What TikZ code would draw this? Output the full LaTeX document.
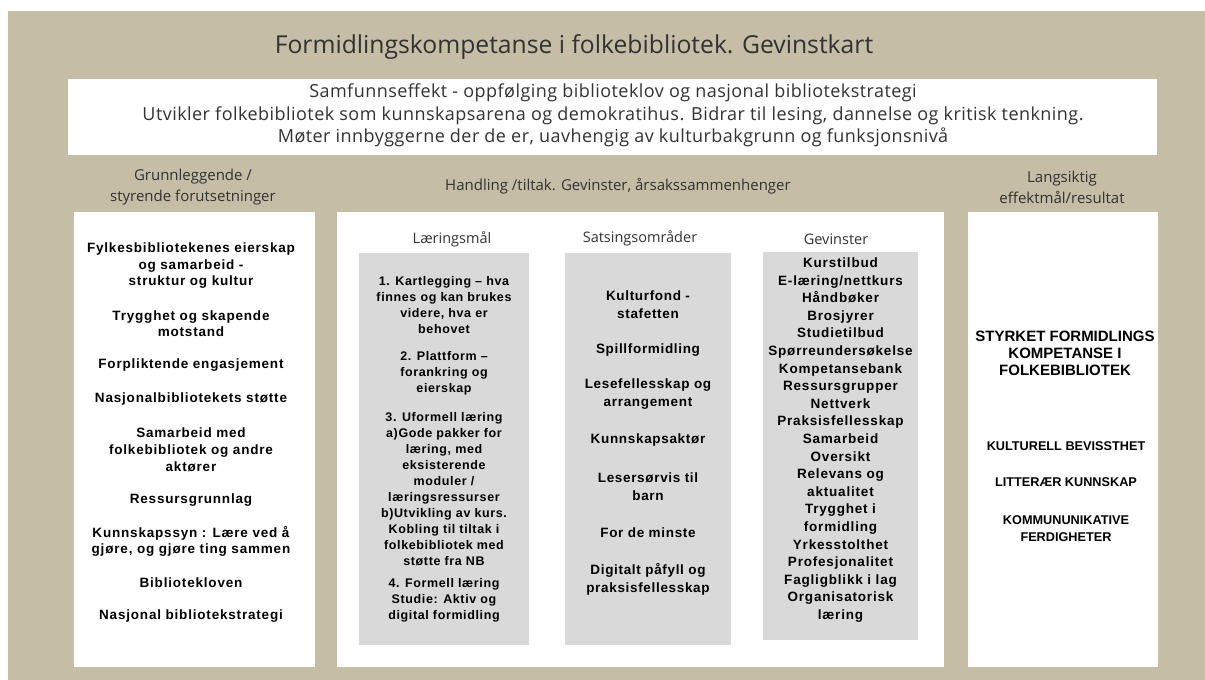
\documentclass[tikz,border=0pt]{standalone}
\usepackage{fontspec}
\setmainfont{Liberation Sans}
\newfontfamily\hdrfont{Open Sans}
\newfontfamily\bandfont{Open Sans}[LetterSpace=2.5]
\newfontfamily\bodyfontA{Liberation Sans}[LetterSpace=6]
\newfontfamily\bodyfontB{Liberation Sans}[LetterSpace=5]
\definecolor{beige}{RGB}{197,189,166}
\definecolor{boxgray}{RGB}{217,217,217}
\definecolor{hdrtext}{RGB}{50,50,50}
\tikzset{
  panel/.style={fill=white, draw=none, inner sep=0pt, anchor=north west},
  graypanel/.style={fill=boxgray, draw=none, inner sep=0pt, anchor=north west},
  hdr/.style={font=\hdrfont\fontsize{15}{21}\selectfont, text=hdrtext, align=center, inner sep=0pt},
  subhdr/.style={font=\hdrfont\fontsize{14.5}{18}\selectfont, text=hdrtext, align=center, inner sep=0pt},
  body/.style={font=\bodyfontA\fontsize{13.5}{16.6}\selectfont\bfseries, align=center, inner sep=0pt},
  bodyL/.style={font=\bodyfontB\fontsize{12.5}{16}\selectfont\bfseries, align=center, inner sep=0pt},
  bodyS/.style={font=\bodyfontB\fontsize{13.5}{18}\selectfont\bfseries, align=center, inner sep=0pt},
  bodyG/.style={font=\bodyfontA\fontsize{13.5}{17.6}\selectfont\bfseries, align=center, inner sep=0pt},
  caps/.style={font=\fontsize{12.7}{17}\selectfont\bfseries, align=center, inner sep=0pt},
  capsbig/.style={font=\fontsize{15}{17}\selectfont\bfseries, align=center, inner sep=0pt}
}
\begin{document}
\begin{tikzpicture}[x=1pt,y=-1pt]
\useasboundingbox (0,0) rectangle (1205,680);
\fill[white] (0,0) rectangle (1205,680);
\fill[beige] (8,11) rectangle (1205,680);

% title
\node[font=\hdrfont\fontsize{24.7}{28}\selectfont, text=hdrtext, inner sep=0pt] (title) at (574,47) {Formidlingskompetanse i folkebibliotek. Gevinstkart};

% white band
\node[panel, minimum width=1089pt, minimum height=76pt] (band) at (68,79) {};
\node[font=\bandfont\fontsize{18}{22.5}\selectfont, text=hdrtext, align=center, inner sep=0pt] (bandtext) at (613,115.5)
 {Samfunnseffekt - oppfølging biblioteklov og nasjonal bibliotekstrategi\\
  Utvikler folkebibliotek som kunnskapsarena og demokratihus. Bidrar til lesing, dannelse og kritisk tenkning.\\
  Møter innbyggerne der de er, uavhengig av kulturbakgrunn og funksjonsnivå};

% column headers
\node[hdr] (h1) at (193,187.5) {Grunnleggende /\\styrende forutsetninger};
\node[hdr] (h2) at (618,186) {Handling /tiltak. Gevinster, årsakssammenhenger};
\node[hdr] (h3) at (1062,187) {Langsiktig\\effektmål/resultat};

% main panels
\node[panel, minimum width=241pt, minimum height=455pt] (left) at (74,212) {};
\node[panel, minimum width=607pt, minimum height=455pt] (mid) at (337,212) {};
\node[panel, minimum width=190pt, minimum height=455pt] (right) at (968,212) {};

% gray panels
\node[graypanel, minimum width=170pt, minimum height=392pt] (g1) at (359,253) {};
\node[graypanel, minimum width=166pt, minimum height=392pt] (g2) at (565,253) {};
\node[graypanel, minimum width=155pt, minimum height=388pt] (g3) at (763,252) {};

\node[subhdr] (s1) at (452,239) {Læringsmål};
\node[subhdr] (s2) at (640,238) {Satsingsområder};
\node[subhdr] (s3) at (836,239) {Gevinster};

% left column
\node[body] (l1) at (191,265.7) {Fylkesbibliotekenes eierskap\\og samarbeid -\\struktur og kultur};
\node[body] (l2) at (191,323.5) {Trygghet og skapende\\motstand};
\node[body] (l3) at (191,365) {Forpliktende engasjement};
\node[body] (l4) at (191,399) {Nasjonalbibliotekets støtte};
\node[body] (l5) at (191,449.7) {Samarbeid med\\folkebibliotek og andre\\aktører};
\node[body] (l6) at (191,500) {Ressursgrunnlag};
\node[body] (l7) at (191,541.5) {Kunnskapssyn : Lære ved å\\gjøre, og gjøre ting sammen};
\node[body] (l8) at (191,583) {Bibliotekloven};
\node[body] (l9) at (191,616) {Nasjonal bibliotekstrategi};

% Læringsmål
\node[bodyL] (m1) at (444,305) {1. Kartlegging – hva\\finnes og kan brukes\\videre, hva er\\behovet};
\node[bodyL] (m2) at (444,373) {2. Plattform –\\forankring og\\eierskap};
\node[bodyL] (m3) at (444,489) {3. Uformell læring\\a)Gode pakker for\\læring, med\\eksisterende\\moduler /\\læringsressurser\\b)Utvikling av kurs.\\Kobling til tiltak i\\folkebibliotek med\\støtte fra NB};
\node[bodyL] (m4) at (444,600) {4. Formell læring\\Studie: Aktiv og\\digital formidling};

% Satsingsområder
\node[bodyS] (a1) at (648,304.5) {Kulturfond -\\stafetten};
\node[bodyS] (a2) at (648,350) {Spillformidling};
\node[bodyS] (a3) at (648,394.5) {Lesefellesskap og\\arrangement};
\node[bodyS] (a4) at (648,440) {Kunnskapsaktør};
\node[bodyS] (a5) at (648,487) {Lesersørvis til\\barn};
\node[bodyS] (a6) at (648,533) {For de minste};
\node[bodyS] (a7) at (648,579) {Digitalt påfyll og\\praksisfellesskap};

% Gevinster
\node[bodyG] (gv) at (840.5,440) {Kurstilbud\\E-læring/nettkurs\\Håndbøker\\Brosjyrer\\Studietilbud\\Spørreundersøkelse\\Kompetansebank\\Ressursgrupper\\Nettverk\\Praksisfellesskap\\Samarbeid\\Oversikt\\Relevans og\\aktualitet\\Trygghet i\\formidling\\Yrkesstolthet\\Profesjonalitet\\Fagligblikk i lag\\Organisatorisk\\læring};

% right column
\node[capsbig] (r1) at (1065,353) {STYRKET FORMIDLINGS\\KOMPETANSE I\\FOLKEBIBLIOTEK};
\node[caps] (r2) at (1066,446) {KULTURELL BEVISSTHET};
\node[caps] (r3) at (1066,482) {LITTERÆR KUNNSKAP};
\node[caps] (r4) at (1066,528.5) {KOMMUNUNIKATIVE\\FERDIGHETER};
\end{tikzpicture}
\end{document}
